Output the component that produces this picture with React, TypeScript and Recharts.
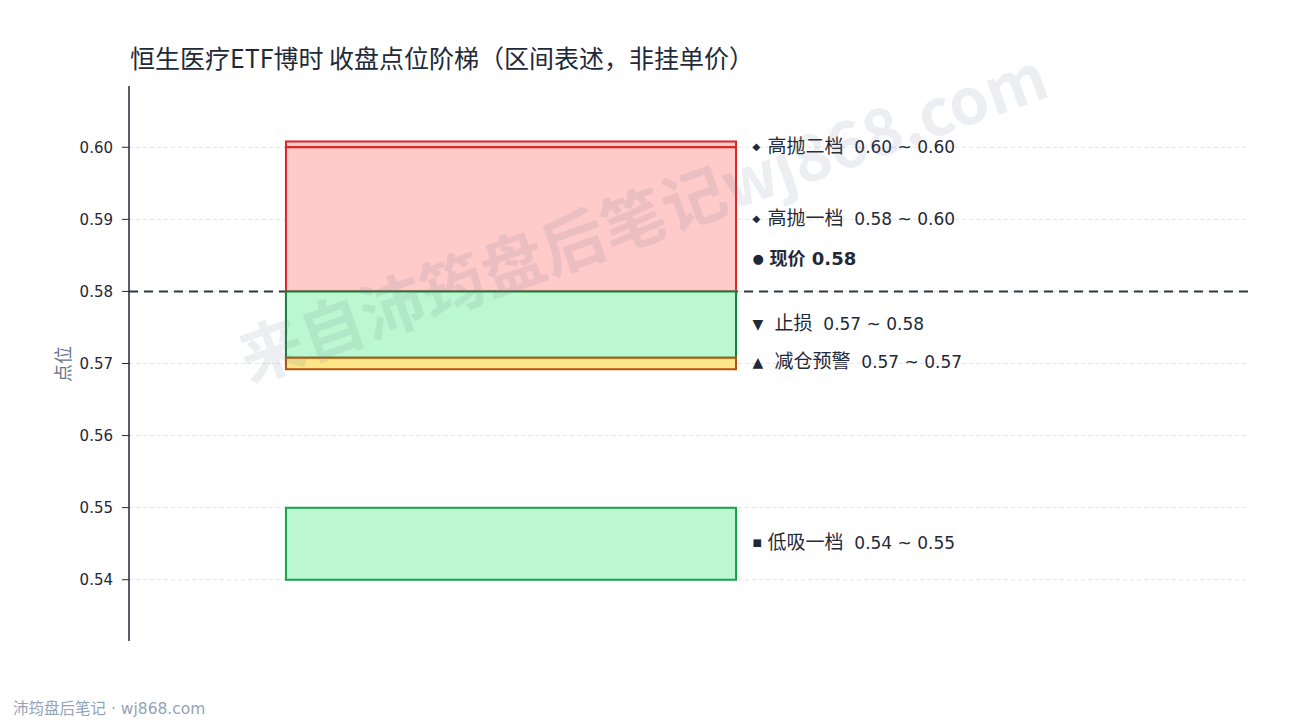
import React from "react";
import {
  ComposedChart,
  XAxis,
  YAxis,
  CartesianGrid,
  ReferenceArea,
  ReferenceLine,
  Scatter,
} from "recharts";

// price levels (ranges, not order prices)
const levelNames = ["高抛二档", "高抛一档", "止损", "减仓预警", "低吸一档"];
const levelLow = [0.6, 0.58, 0.5708, 0.5692, 0.54];
const levelHigh = [0.6008, 0.6, 0.58, 0.5708, 0.55];
const levelLabelAt = [0.6, 0.59, 0.5754, 0.5701, 0.545];
const levelMarkers = ["◆", "◆", "▼", "▲", "■"];
const levelKinds = ["high", "high", "stop", "warn", "low"];

const currentPrice = 0.58;
const yTicks = [0.54, 0.55, 0.56, 0.57, 0.58, 0.59, 0.6];
const yDomain = [0.5315, 0.6085];

const W = 1290;
const H = 720;
const BOX_X1 = 0.14;
const BOX_X2 = 0.5415;
const LABEL_X = 0.5562;

const kindStyle: Record<string, { fill: string; stroke: string }> = {
  high: { fill: "#fecaca", stroke: "#dc2626" },
  stop: { fill: "#bbf7d0", stroke: "#15803d" },
  warn: { fill: "#fde68a", stroke: "#b45309" },
  low: { fill: "#bbf7d0", stroke: "#16a34a" },
};

const markerStyle: Record<string, { size: number; gap: number }> = {
  "◆": { size: 10, gap: 15 },
  "▼": { size: 14, gap: 22 },
  "▲": { size: 14, gap: 22 },
  "■": { size: 10, gap: 15 },
  "●": { size: 13, gap: 17 },
};

const labelData = levelNames.map((name, i) => ({
  x: LABEL_X,
  y: levelLabelAt[i],
  marker: levelMarkers[i],
  name,
  range: `  ${levelLow[i].toFixed(2)} ~ ${levelHigh[i].toFixed(2)}`,
  bold: false,
  shift: -1,
}));
labelData.push({
  x: LABEL_X,
  y: currentPrice,
  marker: "●",
  name: "现价",
  range: ` ${currentPrice.toFixed(2)}`,
  bold: true,
  shift: -33,
});

const FONT = '"DejaVu Sans", "Noto Sans CJK SC", sans-serif';
const CJK = '"Noto Sans CJK SC", "Noto Sans", sans-serif';

function LevelLabel(props: any) {
  const { cx, cy, payload } = props;
  if (cx == null || cy == null) return null;
  const m = markerStyle[payload.marker];
  const y = cy + payload.shift;
  return (
    <g>
      <text
        x={cx}
        y={y}
        fontSize={m.size}
        fill="#1f2937"
        dominantBaseline="central"
        fontFamily="DejaVu Sans, sans-serif"
      >
        {payload.marker}
      </text>
      <text
        x={cx + m.gap}
        y={y + 6.5}
        fill="#1f2937"
        fontWeight={payload.bold ? 700 : 400}
        style={{ whiteSpace: "pre" }}
      >
        <tspan fontFamily={CJK} fontSize={payload.bold ? 18 : 19}>
          {payload.name}
        </tspan>
        <tspan fontFamily={FONT} fontSize={payload.bold ? 18 : 17}>
          {payload.range}
        </tspan>
      </text>
    </g>
  );
}

function AxisTitle(props: any) {
  return (
    <text
      x={62}
      y={364}
      transform="rotate(-90 62 364)"
      textAnchor="middle"
      dominantBaseline="central"
      fontSize={18}
      fill="#64748b"
      fontFamily={CJK}
    >
      点位
    </text>
  );
}

export default function App() {
  return (
    <div
      style={{
        position: "absolute",
        left: 0,
        top: 0,
        width: W,
        height: H,
        background: "#ffffff",
        overflow: "hidden",
        fontFamily: CJK,
      }}
    >
      <div
        style={{
          position: "absolute",
          left: 130,
          top: 39,
          fontSize: 25,
          color: "#1f2937",
          whiteSpace: "nowrap",
        }}
      >
        恒生医疗ETF博时 收盘点位阶梯（区间表述，非挂单价）
      </div>
      <ComposedChart
        width={W}
        height={H}
        margin={{ top: 86, right: 40, bottom: 79, left: 0 }}
        data={labelData}
      >
        <CartesianGrid
          horizontal
          vertical={false}
          horizontalValues={yTicks}
          stroke="#e2e5ea"
          strokeDasharray="4 3"
        />
        <XAxis type="number" dataKey="x" domain={[0, 1]} hide />
        <YAxis
          type="number"
          dataKey="y"
          domain={yDomain}
          ticks={yTicks}
          allowDataOverflow
          width={129}
          tickFormatter={(v: number) => v.toFixed(2)}
          tick={{ fontSize: 15, fill: "#1f2937", fontFamily: FONT }}
          tickLine={{ stroke: "#1f2937" }}
          axisLine={{ stroke: "#1f2937", strokeWidth: 1.5 }}
          tickSize={7}
          tickMargin={9}
          label={<AxisTitle />}
        />
        <ReferenceLine
          y={currentPrice}
          stroke="#2d3748"
          strokeWidth={2}
          strokeDasharray="9 6"
          zIndex={50}
        />
        {levelNames.map((name, i) => (
          <ReferenceArea
            key={name}
            x1={BOX_X1}
            x2={BOX_X2}
            y1={levelLow[i]}
            y2={levelHigh[i]}
            fill={kindStyle[levelKinds[i]].fill}
            fillOpacity={1}
            stroke={kindStyle[levelKinds[i]].stroke}
            strokeWidth={2}
            ifOverflow="visible"
            zIndex={60 + i}
          />
        ))}
        <Scatter
          dataKey="y"
          data={labelData}
          shape={<LevelLabel />}
          isAnimationActive={false}
        />
      </ComposedChart>
      <div
        style={{
          position: "absolute",
          left: 215,
          top: 167,
          fontSize: 64,
          fontWeight: 700,
          color: "rgba(100,116,139,0.12)",
          whiteSpace: "nowrap",
          transform: "rotate(-19.7deg)",
          transformOrigin: "center",
          pointerEvents: "none",
        }}
      >
        来自沛筠盘后笔记wj868.com
      </div>
      <div
        style={{
          position: "absolute",
          left: 13,
          top: 696,
          fontSize: 15.5,
          color: "#94a3b8",
          whiteSpace: "nowrap",
          fontFamily: FONT,
        }}
      >
        沛筠盘后笔记 · wj868.com
      </div>
    </div>
  );
}
